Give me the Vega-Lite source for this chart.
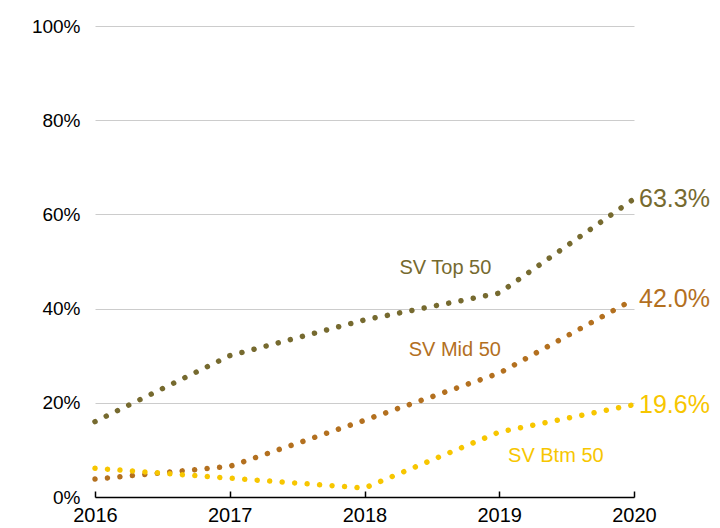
{
  "$schema": "https://vega.github.io/schema/vega-lite/v6.json",
  "width": 539,
  "height": 471,
  "autosize": {"type": "none"},
  "padding": {"left": 95, "top": 26, "right": 86, "bottom": 31},
  "background": "white",
  "config": {
    "view": {"stroke": null},
    "font": "Liberation Sans"
  },
  "datasets": {
    "series": [
      {"year": 2016, "value": 0.16, "series": "SV Top 50"},
      {"year": 2017, "value": 0.30, "series": "SV Top 50"},
      {"year": 2018, "value": 0.376, "series": "SV Top 50"},
      {"year": 2019, "value": 0.433, "series": "SV Top 50"},
      {"year": 2020, "value": 0.633, "series": "SV Top 50"},
      {"year": 2016, "value": 0.038, "series": "SV Mid 50"},
      {"year": 2017, "value": 0.065, "series": "SV Mid 50"},
      {"year": 2018, "value": 0.163, "series": "SV Mid 50"},
      {"year": 2019, "value": 0.263, "series": "SV Mid 50"},
      {"year": 2020, "value": 0.42, "series": "SV Mid 50"},
      {"year": 2016, "value": 0.061, "series": "SV Btm 50"},
      {"year": 2017, "value": 0.04, "series": "SV Btm 50"},
      {"year": 2018, "value": 0.019, "series": "SV Btm 50"},
      {"year": 2019, "value": 0.138, "series": "SV Btm 50"},
      {"year": 2020, "value": 0.196, "series": "SV Btm 50"}
    ],
    "labels": [
      {"year": 2018.6, "value": 0.486, "series": "SV Top 50"},
      {"year": 2018.67, "value": 0.312, "series": "SV Mid 50"},
      {"year": 2019.42, "value": 0.087, "series": "SV Btm 50"}
    ]
  },
  "layer": [
    {
      "data": {"name": "series"},
      "mark": {"type": "line", "interpolate": "linear", "strokeWidth": 5.5, "strokeCap": "round", "strokeJoin": "round", "strokeDash": [0.01, 12.5]},
      "encoding": {
        "x": {
          "field": "year", "type": "quantitative",
          "scale": {"domain": [2016, 2020], "nice": false, "zero": false},
          "axis": {
            "title": null, "values": [2016, 2017, 2018, 2019, 2020], "format": "d",
            "grid": false, "domainColor": "#000000", "domainWidth": 1.5, "tickColor": "#000000",
            "tickWidth": 1.5, "tickSize": -6, "labelFontSize": 20, "labelColor": "#000000",
            "labelPadding": 14, "labelFlush": false
          }
        },
        "y": {
          "field": "value", "type": "quantitative",
          "scale": {"domain": [0, 1], "nice": false},
          "axis": {
            "title": null, "values": [0, 0.2, 0.4, 0.6, 0.8, 1], "format": ".0%",
            "domain": false, "ticks": false, "gridColor": "#cccccc", "gridWidth": 1,
            "labelFontSize": 19, "labelColor": "#000000", "labelPadding": 15
          }
        },
        "color": {
          "field": "series", "type": "nominal",
          "scale": {"domain": ["SV Top 50", "SV Mid 50", "SV Btm 50"], "range": ["#766a2f", "#b3701f", "#f7c600"]},
          "legend": null
        }
      }
    },
    {
      "data": {"name": "series"},
      "transform": [{"filter": "datum.year == 2020"}],
      "mark": {"type": "text", "align": "left", "baseline": "middle", "dx": 5, "fontSize": 25},
      "encoding": {
        "x": {"field": "year", "type": "quantitative"},
        "y": {"field": "value", "type": "quantitative"},
        "text": {"field": "value", "type": "quantitative", "format": ".1%"},
        "color": {"field": "series", "type": "nominal"}
      }
    },
    {
      "data": {"name": "labels"},
      "mark": {"type": "text", "align": "center", "baseline": "middle", "fontSize": 20},
      "encoding": {
        "x": {"field": "year", "type": "quantitative"},
        "y": {"field": "value", "type": "quantitative"},
        "text": {"field": "series", "type": "nominal"},
        "color": {"field": "series", "type": "nominal"}
      }
    }
  ]
}
